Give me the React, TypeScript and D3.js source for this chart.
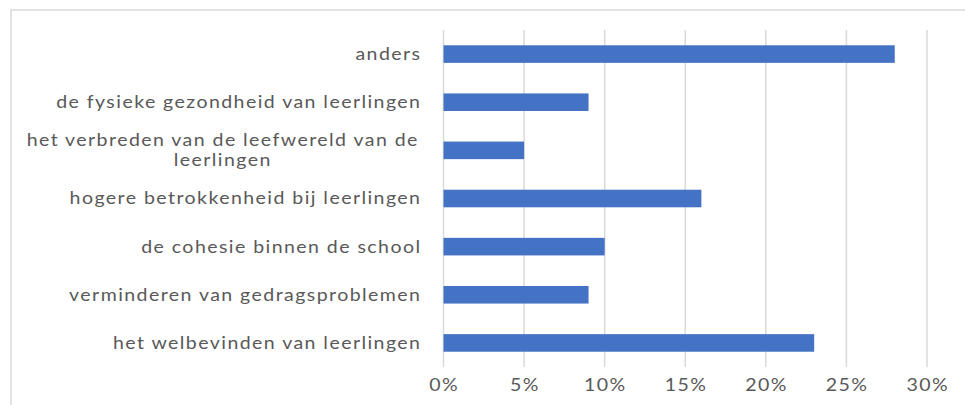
import React from "react";
import * as d3 from "d3";

const categories: string[][] = [
  ["anders"],
  ["de fysieke gezondheid van leerlingen"],
  ["het verbreden van de leefwereld van de", "leerlingen"],
  ["hogere betrokkenheid bij leerlingen"],
  ["de cohesie binnen de school"],
  ["verminderen van gedragsproblemen"],
  ["het welbevinden van leerlingen"],
];
const values: number[] = [28, 9, 5, 16, 10, 9, 23];
const ticks: number[] = [0, 5, 10, 15, 20, 25, 30];

const W = 965;
const H = 405;
const left = 443.5;
const right = 927;
const top = 30;
const bottom = 367;
const FONT = "Lato, 'Open Sans', sans-serif";
const TEXT = "#595959";
const SX = 1.15;
const LS = 1.25;

function Label({ x, y, anchor, children }: { x: number; y: number; anchor: string; children: string }) {
  return (
    <g transform={`translate(${x},${y}) scale(${SX},1)`}>
      <text
        x={anchor === "end" ? LS : anchor === "middle" ? LS / 2 : 0}
        y={0}
        dy="0.35em"
        textAnchor={anchor}
        fontFamily={FONT}
        fontSize={17}
        letterSpacing={LS}
        fill={TEXT}
      >
        {children}
      </text>
    </g>
  );
}

export default function App() {
  const x = d3.scaleLinear().domain([0, 30]).range([left, right]);
  const idx = categories.map((_, i) => String(i));
  const y = d3.scaleBand().domain(idx).range([top, bottom]).paddingInner(0.635).paddingOuter(0.3175);
  return (
    <svg width={W} height={H} style={{ position: "absolute", left: 0, top: 0 }}>
      <rect x={0} y={0} width={W} height={H} fill="#fff" />
      <path d={`M11,${H + 5}V10H${W + 5}`} fill="none" stroke="#d9d9d9" strokeWidth={1.5} />
      {ticks.map((t) => (
        <g key={t}>
          <line x1={x(t)} x2={x(t)} y1={top} y2={bottom} stroke="#d9d9d9" strokeWidth={1.5} />
          <Label x={x(t)} y={385} anchor="middle">{`${t}%`}</Label>
        </g>
      ))}
      {values.map((v, i) => (
        <rect key={i} x={x(0)} y={y(String(i))!} width={x(v) - x(0)} height={y.bandwidth()} fill="#4472c4" />
      ))}
      {categories.map((lines, i) => {
        const cy = y(String(i))! + y.bandwidth() / 2;
        if (lines.length === 1) {
          return (
            <Label key={i} x={420} y={cy} anchor="end">
              {lines[0]}
            </Label>
          );
        }
        return (
          <g key={i}>
            {lines.map((l, j) => (
              <Label key={j} x={222} y={cy - 10 + j * 20} anchor="middle">
                {l}
              </Label>
            ))}
          </g>
        );
      })}
    </svg>
  );
}
